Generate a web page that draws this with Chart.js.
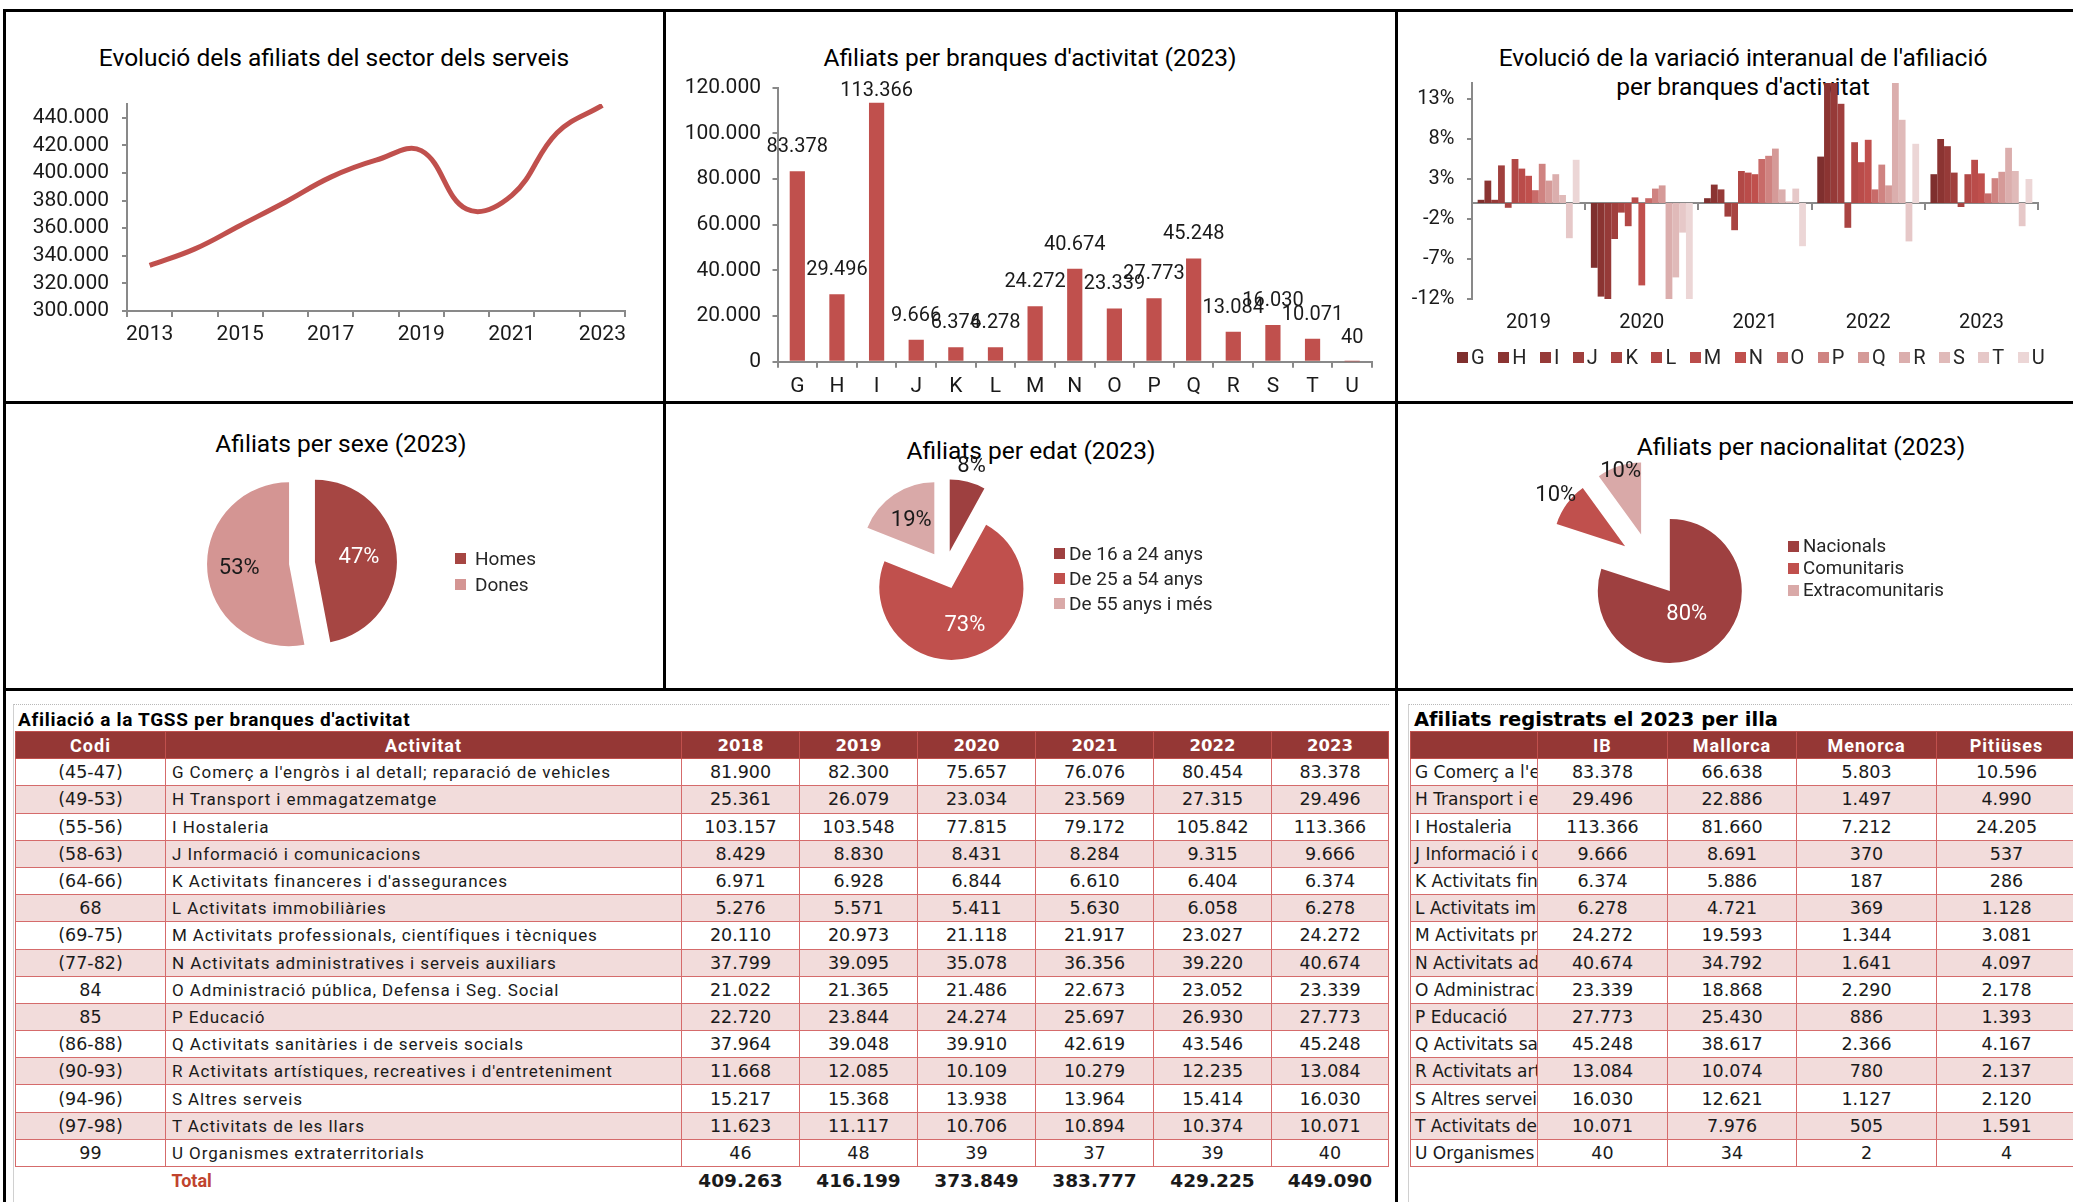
<!DOCTYPE html>
<html lang="ca">
<head>
<meta charset="utf-8">
<title>Afiliats del sector dels serveis</title>
<script src="https://cdn.jsdelivr.net/npm/chart.js@4.4.1/dist/chart.umd.min.js"></script>
<style>
    html, body { margin: 0; padding: 0; background: #ffffff; }
    body { position: relative; width: 2073px; height: 1202px; overflow: hidden; font-family: Roboto, "Open Sans", sans-serif; color: #1a1a1a; }
    .rule { position: absolute; background: #000000; }
    .title { position: absolute; transform: translate(-50%, -50%); white-space: nowrap; font-size: 24.5px; line-height: 29px; text-align: center; color: #000000; }
    canvas { position: absolute; }
    .legend { position: absolute; color: #262626; }
    .legend .item { display: flex; align-items: center; white-space: nowrap; }
    .legend .box { display: inline-block; width: 11px; height: 11px; flex: none; }
    .legend.row { display: flex; transform: translateY(-50%); }
    .legend.row .item { margin-right: 13.5px; font-size: 20px; }
    .legend.row .box { margin-right: 3px; }
    .frame { position: absolute; border-top: 1px dotted #b8b8b8; border-left: 1px solid #d0d0d0; }
    .tbl-title { position: absolute; font-weight: bold; white-space: nowrap; transform: translateY(-50%); color: #000000; }
    table { position: absolute; border-collapse: collapse; table-layout: fixed; }
    tr { height: 27.2px; }
    th, td { padding: 0; text-align: center; white-space: nowrap; overflow: hidden; border: 1.5px solid #d56b6b; font-family: "DejaVu Sans", sans-serif; font-size: 17.5px; color: #1a1a1a; }
    th { background: #953735; color: #ffffff; font-family: Roboto, sans-serif; font-weight: bold; font-size: 18px; letter-spacing: 1px; border-color: #c0504d; }
    th.num { font-family: "DejaVu Sans", sans-serif; font-size: 16.5px; letter-spacing: 0; }
    tr.alt td { background: #f2dcdb; }
    td.text { text-align: left; padding-left: 6px; font-family: Roboto, sans-serif; font-size: 17px; letter-spacing: 0.9px; }
    td.label { text-align: left; padding-left: 4px; font-size: 17px; }
    tr.total td { border: none; font-weight: bold; font-size: 18.5px; }
    tr.total td.text { color: #c0432e; font-size: 18px; letter-spacing: 0; }
</style>
</head>
<body>

<div class="rule" style="left:3px; top:9px; width:2070px; height:3px;"></div>
<div class="rule" style="left:3px; top:9px; width:3px; height:1193px;"></div>
<div class="rule" style="left:663px; top:9px; width:3px; height:681px;"></div>
<div class="rule" style="left:1395px; top:9px; width:3px; height:1193px;"></div>
<div class="rule" style="left:3px; top:401px; width:2070px; height:3px;"></div>
<div class="rule" style="left:3px; top:688px; width:2070px; height:3px;"></div>

<div class="title" style="left:334px; top:57px;">Evolució dels afiliats del sector dels serveis</div>
<div class="title" style="left:1030px; top:57px;">Afiliats per branques d'activitat (2023)</div>
<div class="title" style="left:1743px; top:71.5px;">Evolució de la variació interanual de l'afiliació<br>per branques d'activitat</div>
<div class="title" style="left:341px; top:443px;">Afiliats per sexe (2023)</div>
<div class="title" style="left:1031px; top:450px;">Afiliats per edat (2023)</div>
<div class="title" style="left:1801px; top:446px;">Afiliats per nacionalitat (2023)</div>

<canvas id="serveisChart" width="660" height="393" style="left:5px; top:10px;"></canvas>
<canvas id="branquesChart" width="732" height="393" style="left:665px; top:10px;"></canvas>
<canvas id="variacioChart" width="676" height="393" style="left:1397px; top:10px;"></canvas>
<canvas id="sexeChart" width="660" height="286" style="left:5px; top:403px;"></canvas>
<canvas id="edatChart" width="732" height="286" style="left:665px; top:403px;"></canvas>
<canvas id="nacionalitatChart" width="676" height="286" style="left:1397px; top:403px;"></canvas>

<div id="variacioLegend" class="legend row" style="left:1457px; top:357px;"></div>
<div id="sexeLegend" class="legend" style="left:455px; top:545px; font-size:19px;"></div>
<div id="edatLegend" class="legend" style="left:1054px; top:540.5px; font-size:19px;"></div>
<div id="nacionalitatLegend" class="legend" style="left:1788px; top:535px; font-size:18.7px;"></div>

<div class="frame" style="left:13px; top:704px; width:1375px; height:498px;"></div>
<div class="frame" style="left:1408px; top:704px; width:665px; height:498px;"></div>
<div class="tbl-title" style="left:18px; top:719px; font-size:19px; letter-spacing:0.7px;">Afiliació a la TGSS per branques d'activitat</div>
<div class="tbl-title" style="left:1414px; top:719px; font-size:19.5px; font-family:'DejaVu Sans', sans-serif;">Afiliats registrats el 2023 per illa</div>
<table id="taulaBranques" style="left:15px; top:731px; width:1373px;"></table>
<table id="taulaIlles" style="left:1410px; top:731px; width:666px;"></table>

<script>
// ---------- chart data ----------
const anysServeis = ['2013', '2014', '2015', '2016', '2017', '2018', '2019', '2020', '2021', '2022', '2023'];
const afiliatsServeis = [333000, 345000, 362000, 379000, 397000, 409263, 416199, 373849, 383777, 429225, 449090];
const ticksServeis = [300000, 320000, 340000, 360000, 380000, 400000, 420000, 440000];

const branques = ['G', 'H', 'I', 'J', 'K', 'L', 'M', 'N', 'O', 'P', 'Q', 'R', 'S', 'T', 'U'];
const afiliats2023 = [83378, 29496, 113366, 9666, 6374, 6278, 24272, 40674, 23339, 27773, 45248, 13084, 16030, 10071, 40];
const ticksBranques = [0, 20000, 40000, 60000, 80000, 100000, 120000];

const anysVariacio = ['2019', '2020', '2021', '2022', '2023'];
const ticksVariacio = [-12, -7, -2, 3, 8, 13];
const variacioG = [0.4, -8.1, 0.6, 5.8, 3.6];
const variacioH = [2.8, -11.7, 2.3, 15.9, 8.0];
const variacioI = [0.4, -24.8, 1.7, 33.7, 7.1];
const variacioJ = [4.7, -4.5, -1.7, 12.4, 3.8];
const variacioK = [-0.6, -1.2, -3.4, -3.1, -0.5];
const variacioL = [5.5, -2.9, 4.0, 7.6, 3.6];
const variacioM = [4.3, 0.7, 3.8, 5.1, 5.4];
const variacioN = [3.4, -10.3, 3.6, 7.9, 3.7];
const variacioO = [1.6, 0.6, 5.5, 1.7, 1.2];
const variacioP = [4.9, 1.8, 5.9, 4.8, 3.1];
const variacioQ = [2.8, 2.2, 6.8, 2.2, 3.9];
const variacioR = [3.6, -16.3, 1.7, 19.0, 6.9];
const variacioS = [1.0, -9.3, 0.2, 10.4, 4.0];
const variacioT = [-4.4, -3.7, 1.8, -4.8, -2.9];
const variacioU = [5.4, -18.8, -5.4, 7.4, 3.0];

const sexeLabels = ['Homes', 'Dones'];
const sexeValues = [47, 53];
const edatLabels = ['De 16 a 24 anys', 'De 25 a 54 anys', 'De 55 anys i més'];
const edatValues = [8, 73, 19];
const nacionalitatLabels = ['Nacionals', 'Comunitaris', 'Extracomunitaris'];
const nacionalitatValues = [80, 10, 10];

// ---------- table data ----------
const anysTaula = ['2018', '2019', '2020', '2021', '2022', '2023'];
const codis = ['(45-47)', '(49-53)', '(55-56)', '(58-63)', '(64-66)', '68', '(69-75)', '(77-82)', '84', '85', '(86-88)', '(90-93)', '(94-96)', '(97-98)', '99'];
const activitats = [
    "G Comerç a l'engròs i al detall; reparació de vehicles",
    'H Transport i emmagatzematge',
    'I Hostaleria',
    'J Informació i comunicacions',
    "K Activitats financeres i d'assegurances",
    'L Activitats immobiliàries',
    'M Activitats professionals, científiques i tècniques',
    'N Activitats administratives i serveis auxiliars',
    'O Administració pública, Defensa i Seg. Social',
    'P Educació',
    'Q Activitats sanitàries i de serveis socials',
    "R Activitats artístiques, recreatives i d'entreteniment",
    'S Altres serveis',
    'T Activitats de les llars',
    'U Organismes extraterritorials'
];
const afiliats2018 = [81900, 25361, 103157, 8429, 6971, 5276, 20110, 37799, 21022, 22720, 37964, 11668, 15217, 11623, 46];
const afiliats2019 = [82300, 26079, 103548, 8830, 6928, 5571, 20973, 39095, 21365, 23844, 39048, 12085, 15368, 11117, 48];
const afiliats2020 = [75657, 23034, 77815, 8431, 6844, 5411, 21118, 35078, 21486, 24274, 39910, 10109, 13938, 10706, 39];
const afiliats2021 = [76076, 23569, 79172, 8284, 6610, 5630, 21917, 36356, 22673, 25697, 42619, 10279, 13964, 10894, 37];
const afiliats2022 = [80454, 27315, 105842, 9315, 6404, 6058, 23027, 39220, 23052, 26930, 43546, 12235, 15414, 10374, 39];
const totalsAny = [409263, 416199, 373849, 383777, 429225, 449090];

const illes = ['IB', 'Mallorca', 'Menorca', 'Pitiüses'];
const illaMallorca = [66638, 22886, 81660, 8691, 5886, 4721, 19593, 34792, 18868, 25430, 38617, 10074, 12621, 7976, 34];
const illaMenorca = [5803, 1497, 7212, 370, 187, 369, 1344, 1641, 2290, 886, 2366, 780, 1127, 505, 2];
const illaPitiuses = [10596, 4990, 24205, 537, 286, 1128, 3081, 4097, 2178, 1393, 4167, 2137, 2120, 1591, 4];

// ---------- styles ----------
const lineRed = '#C0504D';
const axisGrey = '#898989';
const brancaColors = ['#7F2F2E', '#8B3432', '#963A38', '#A03F3D', '#A94442', '#B24846', '#BA4C4A', '#C0504D',
                      '#C86B69', '#CF8381', '#D59A98', '#DBAEAD', '#E0BAB9', '#E6C8C8', '#ECD6D6'];
const sexeColors = ['#A64643', '#D49593'];
const edatColors = ['#9E4040', '#C0504D', '#D9A9A8'];
const nacionalitatColors = ['#9E4040', '#C0504D', '#D9A9A8'];

Chart.defaults.font.family = 'Roboto';
Chart.defaults.color = '#1a1a1a';
Chart.defaults.animation = false;

function printNumber(value) {
    return String(value).replace(/\B(?=(\d{3})+(?!\d))/g, '.');
}

function axisGrid(tickLength) {
    return { drawOnChartArea: false, tickLength: tickLength, color: axisGrey, lineWidth: 2 };
}

function fixedTicks(values) {
    return function (axis) { axis.ticks = values.map((v) => ({ value: v })); };
}

/// SUMMARY
///        line chart with the evolution of the service sector
function createLineGraph(elementId) {
    const canvas = document.getElementById(elementId);
    return new Chart(canvas, {
        type: 'line',
        data: {
            labels: anysServeis,
            datasets: [{
                data: afiliatsServeis,
                borderColor: lineRed,
                borderWidth: 5,
                pointRadius: 0,
                tension: 0.4,
                fill: false
            }]
        },
        options: {
            responsive: false,
            layout: { padding: { top: 94, right: 40, bottom: 52, left: 0 } },
            plugins: { legend: { display: false }, tooltip: { enabled: false } },
            scales: {
                x: {
                    offset: true,
                    grid: Object.assign(axisGrid(6), { offset: true }),
                    border: { color: axisGrey, width: 2 },
                    ticks: {
                        autoSkip: false, maxRotation: 0, padding: 5, font: { size: 21 },
                        callback: function (value, index) { return index % 2 === 0 ? this.getLabelForValue(value) : ''; }
                    },
                    afterFit: function (scale) { scale.height = 40; }
                },
                y: {
                    min: 300000,
                    max: 450000,
                    grid: axisGrid(5),
                    border: { color: axisGrey, width: 2 },
                    ticks: { padding: 13, font: { size: 21 }, callback: (v) => printNumber(v) },
                    afterBuildTicks: fixedTicks(ticksServeis),
                    afterFit: function (scale) { scale.width = 122; }
                }
            }
        }
    });
}

// value written above each bar, kept inside the plot area
const barValueLabels = {
    id: 'barValueLabels',
    afterDatasetsDraw(chart) {
        const ctx = chart.ctx;
        const dataset = chart.data.datasets[0];
        ctx.save();
        ctx.font = '20px Roboto';
        ctx.fillStyle = '#1a1a1a';
        ctx.textAlign = 'center';
        ctx.textBaseline = 'middle';
        chart.getDatasetMeta(0).data.forEach((bar, i) => {
            const y = Math.max(bar.y - 24, chart.chartArea.top + 3);
            ctx.fillText(printNumber(dataset.data[i]), bar.x, y);
        });
        ctx.restore();
    }
};

function createBarGraph(elementId) {
    const canvas = document.getElementById(elementId);
    return new Chart(canvas, {
        type: 'bar',
        data: {
            labels: branques,
            datasets: [{
                data: afiliats2023,
                backgroundColor: lineRed,
                categoryPercentage: 0.8,
                barPercentage: 0.48
            }]
        },
        options: {
            responsive: false,
            layout: { padding: { top: 77.7, right: 25, bottom: 1.3, left: 0 } },
            plugins: { legend: { display: false }, tooltip: { enabled: false } },
            scales: {
                x: {
                    grid: Object.assign(axisGrid(6), { offset: true }),
                    border: { color: axisGrey, width: 2 },
                    ticks: { padding: 6.7, font: { size: 21 } },
                    afterFit: function (scale) { scale.height = 40; }
                },
                y: {
                    min: 0,
                    max: 120000,
                    grid: axisGrid(5),
                    border: { color: axisGrey, width: 2 },
                    ticks: { padding: 11.5, font: { size: 21 }, callback: (v) => printNumber(v) },
                    afterBuildTicks: fixedTicks(ticksBranques),
                    afterFit: function (scale) { scale.width = 112.5; }
                }
            }
        },
        plugins: [barValueLabels]
    });
}

function createVariationGraph(elementId) {
    const canvas = document.getElementById(elementId);
    const series = [variacioG, variacioH, variacioI, variacioJ, variacioK, variacioL, variacioM, variacioN,
                    variacioO, variacioP, variacioQ, variacioR, variacioS, variacioT, variacioU];
    const datasets = series.map((values, i) => ({
        label: branques[i],
        data: values,
        xAxisID: 'x',
        backgroundColor: brancaColors[i],
        borderWidth: 0,
        categoryPercentage: 0.9,
        barPercentage: 1
    }));
    return new Chart(canvas, {
        type: 'bar',
        data: { labels: anysVariacio, datasets: datasets },
        options: {
            responsive: false,
            layout: { padding: { top: 73, right: 35, bottom: 74, left: 0 } },
            plugins: { legend: { display: false }, tooltip: { enabled: false } },
            scales: {
                x: {
                    grid: { display: false, drawTicks: false },
                    border: { display: false },
                    ticks: { padding: 12, font: { size: 20 } },
                    afterFit: function (scale) { scale.height = 30; }
                },
                // axis line drawn through zero, with the year separators
                x0: {
                    type: 'category',
                    axis: 'x',
                    position: { y: 0 },
                    grid: Object.assign(axisGrid(6), { offset: true }),
                    border: { color: axisGrey, width: 2 },
                    ticks: { display: false }
                },
                y: {
                    min: -12,
                    max: 15,
                    grid: axisGrid(5),
                    border: { color: axisGrey, width: 2 },
                    ticks: { padding: 12.5, font: { size: 20 }, callback: (v) => v + '%' },
                    afterBuildTicks: fixedTicks(ticksVariacio),
                    afterFit: function (scale) { scale.width = 75; }
                }
            }
        }
    });
}

/// SUMMARY
///        pie whose slices are pulled away from the centre, with % labels
const explodedPie = {
    id: 'explodedPie',
    beforeDatasetDraw(chart, args, opts) {
        const ctx = chart.ctx;
        args.meta.data.forEach((arc) => {
            const mid = (arc.startAngle + arc.endAngle) / 2;
            ctx.save();
            ctx.translate(Math.cos(mid) * opts.explode, Math.sin(mid) * opts.explode);
            arc.draw(ctx);
            ctx.restore();
        });
        return false;
    },
    afterDatasetsDraw(chart, args, opts) {
        const ctx = chart.ctx;
        const values = chart.data.datasets[0].data;
        ctx.save();
        ctx.font = '22px Roboto';
        ctx.textAlign = 'center';
        ctx.textBaseline = 'middle';
        chart.getDatasetMeta(0).data.forEach((arc, i) => {
            const mid = (arc.startAngle + arc.endAngle) / 2;
            const dist = opts.explode + opts.labelPos[i] * arc.outerRadius;
            ctx.fillStyle = opts.labelColors[i];
            ctx.fillText(values[i] + '%', arc.x + Math.cos(mid) * dist, arc.y + Math.sin(mid) * dist);
        });
        ctx.restore();
    }
};

function createPieGraph(elementId, labels, values, colors, settings) {
    const canvas = document.getElementById(elementId);
    return new Chart(canvas, {
        type: 'pie',
        data: {
            labels: labels,
            datasets: [{ data: values, backgroundColor: colors, borderWidth: 0, radius: settings.radius }]
        },
        options: {
            responsive: false,
            layout: { padding: settings.padding },
            plugins: {
                legend: { display: false },
                tooltip: { enabled: false },
                explodedPie: { explode: settings.explode, labelPos: settings.labelPos, labelColors: settings.labelColors }
            }
        },
        plugins: [explodedPie]
    });
}

function createLegend(elementId, labels, colors, itemHeight, gap) {
    const legend = document.getElementById(elementId);
    labels.forEach(function (label, i) {
        const item = document.createElement('div');
        item.className = 'item';
        if (itemHeight) item.style.height = itemHeight + 'px';
        const box = document.createElement('span');
        box.className = 'box';
        box.style.background = colors[i];
        if (gap) box.style.marginRight = gap + 'px';
        item.appendChild(box);
        item.appendChild(document.createTextNode(label));
        legend.appendChild(item);
    });
}

function addCell(row, tag, text, className) {
    const cell = document.createElement(tag);
    cell.textContent = text;
    if (className) cell.className = className;
    row.appendChild(cell);
    return cell;
}

function setColumns(table, widths) {
    const group = document.createElement('colgroup');
    widths.forEach(function (w) {
        const col = document.createElement('col');
        col.style.width = w + 'px';
        group.appendChild(col);
    });
    table.appendChild(group);
}

function fillBranquesTable(elementId) {
    const table = document.getElementById(elementId);
    const perAny = [afiliats2018, afiliats2019, afiliats2020, afiliats2021, afiliats2022, afiliats2023];
    setColumns(table, [150, 516, 118, 118, 118, 118, 118, 117]);

    let row = table.insertRow();
    addCell(row, 'th', 'Codi');
    addCell(row, 'th', 'Activitat');
    anysTaula.forEach((a) => addCell(row, 'th', a, 'num'));

    for (let r = 0; r < codis.length; r++) {
        row = table.insertRow();
        if (r % 2 === 1) row.className = 'alt';
        addCell(row, 'td', codis[r]);
        addCell(row, 'td', activitats[r], 'text');
        perAny.forEach((values) => addCell(row, 'td', printNumber(values[r])));
    }

    row = table.insertRow();
    row.className = 'total';
    addCell(row, 'td', '');
    addCell(row, 'td', 'Total', 'text');
    totalsAny.forEach((t) => addCell(row, 'td', printNumber(t)));
}

function fillIllesTable(elementId) {
    const table = document.getElementById(elementId);
    const perIlla = [afiliats2023, illaMallorca, illaMenorca, illaPitiuses];
    setColumns(table, [127, 130, 129, 140, 140]);

    let row = table.insertRow();
    addCell(row, 'th', '');
    illes.forEach((illa) => addCell(row, 'th', illa));

    for (let r = 0; r < activitats.length; r++) {
        row = table.insertRow();
        if (r % 2 === 1) row.className = 'alt';
        addCell(row, 'td', activitats[r], 'label');
        perIlla.forEach((values) => addCell(row, 'td', printNumber(values[r])));
    }
}

createLineGraph('serveisChart');
createBarGraph('branquesChart');
createVariationGraph('variacioChart');
createLegend('variacioLegend', branques, brancaColors);

createPieGraph('sexeChart', sexeLabels, sexeValues, sexeColors, {
    radius: 82, explode: 13,
    padding: { left: 187, right: 253, top: 50, bottom: 16 },
    labelPos: [0.54, 0.61],
    labelColors: ['#ffffff', '#1a1a1a']
});
createPieGraph('edatChart', edatLabels, edatValues, edatColors, {
    radius: 72, explode: 19,
    padding: { left: 170, right: 342, top: 57, bottom: 9 },
    labelPos: [1.22, 0.55, 0.57],
    labelColors: ['#1a1a1a', '#ffffff', '#1a1a1a']
});
createPieGraph('nacionalitatChart', nacionalitatLabels, nacionalitatValues, nacionalitatColors, {
    radius: 72, explode: 32,
    padding: { left: 144, right: 312, top: 52, bottom: 14 },
    labelPos: [0.4, 1.19, 0.92],
    labelColors: ['#ffffff', '#1a1a1a', '#1a1a1a']
});
createLegend('sexeLegend', sexeLabels, sexeColors, 26, 9);
createLegend('edatLegend', edatLabels, edatColors, 25, 4);
createLegend('nacionalitatLegend', nacionalitatLabels, nacionalitatColors, 22, 4);

fillBranquesTable('taulaBranques');
fillIllesTable('taulaIlles');
</script>
</body>
</html>
